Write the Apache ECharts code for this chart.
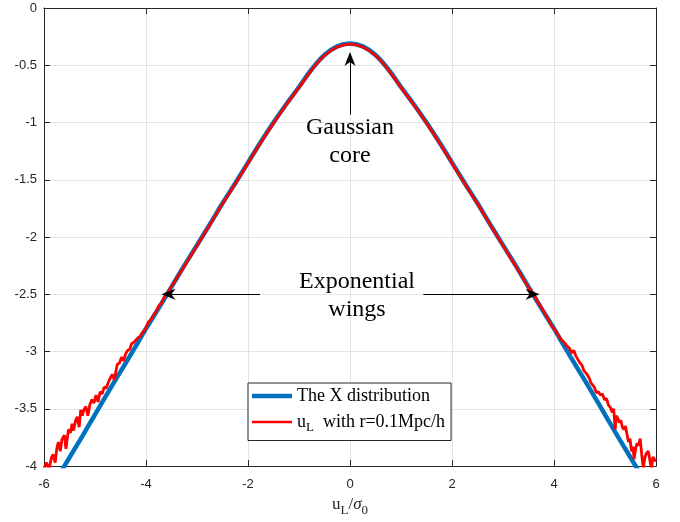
<!DOCTYPE html>
<html><head><meta charset="utf-8">
<script src="https://cdn.jsdelivr.net/npm/echarts@6/dist/echarts.min.js"></script>
<style>html,body{margin:0;padding:0;background:#fff}#c{width:680px;height:522px}</style>
</head><body><div id="c"></div>
<script>
const nameBlue = 'The X distribution';
const nameRed = 'u_L with r=0.1Mpc/h';

const blueX = [-5.75,-5.5,-5.25,-5.0,-4.75,-4.5,-4.25,-4.0,-3.75,-3.5,-3.25,-3.0,-2.75,-2.5,-2.25,-2.0,-1.75,-1.5,-1.25,-1.0,-0.75,-0.5,-0.25,0,
  0.25,0.5,0.75,1.0,1.25,1.5,1.75,2.0,2.25,2.5,2.75,3.0,3.25,3.5,3.75,4.0,4.25,4.5,4.75,5.0,5.25,5.5,5.75];
const blueY = [-4.11,-3.925,-3.74,-3.55,-3.36,-3.175,-2.99,-2.80,-2.62,-2.435,-2.25,-2.07,-1.89,-1.705,-1.53,-1.35,-1.17,-1.0,-0.84,-0.69,-0.535,-0.41,-0.335,-0.31,
  -0.335,-0.41,-0.535,-0.69,-0.84,-1.0,-1.17,-1.35,-1.53,-1.705,-1.89,-2.07,-2.25,-2.435,-2.62,-2.80,-2.99,-3.175,-3.36,-3.55,-3.74,-3.925,-4.11];

const redLeftX = [-6.0,-5.95,-5.9,-5.88,-5.85,-5.82,-5.78,-5.75,-5.72,-5.68,-5.65,-5.6,-5.57,-5.52,-5.48,-5.45,-5.42,-5.38,-5.35,-5.31,-5.28,-5.25,-5.22,-5.18,-5.14,-5.1,-5.06,-5.02,-4.98,-4.94,-4.9,-4.86,-4.82,-4.78,-4.74,-4.7,-4.66,-4.62,-4.59,-4.56,-4.52,-4.48,-4.44,-4.4,-4.36,-4.32,-4.28,-4.24,-4.2,-4.16,-4.12,-4.08,-4.04,-4.0,-3.95,-3.9,-3.85,-3.8,-3.75,-3.7,-3.65,-3.6,-3.55,-3.5];
const redLeftY = [-4.02,-3.97,-4.05,-3.98,-3.92,-3.90,-3.97,-3.85,-3.79,-3.87,-3.77,-3.73,-3.85,-3.68,-3.71,-3.63,-3.69,-3.60,-3.57,-3.66,-3.51,-3.56,-3.51,-3.48,-3.56,-3.46,-3.42,-3.45,-3.38,-3.44,-3.35,-3.37,-3.31,-3.32,-3.27,-3.23,-3.20,-3.25,-3.17,-3.11,-3.10,-3.05,-3.08,-3.02,-2.99,-2.98,-2.93,-2.92,-2.90,-2.88,-2.87,-2.84,-2.82,-2.79,-2.74,-2.72,-2.68,-2.65,-2.60,-2.58,-2.53,-2.50,-2.47,-2.43];

const redCoreX = [-3.5,-3.25,-3.0,-2.75,-2.5,-2.25,-2.0,-1.75,-1.5,-1.25,-1.0,-0.75,-0.5,-0.25,0,0.25,0.5,0.75,1.0,1.25,1.5,1.75,2.0,2.25,2.5,2.75,3.0,3.25,3.5];
const redCoreY = [-2.43,-2.255,-2.075,-1.895,-1.71,-1.535,-1.355,-1.175,-1.005,-0.845,-0.695,-0.54,-0.415,-0.34,-0.315,-0.34,-0.415,-0.54,-0.695,-0.845,-1.005,-1.175,-1.355,-1.535,-1.71,-1.895,-2.075,-2.255,-2.44];

const redRightX = [3.5,3.6,3.7,3.8,3.9,3.96,4.0,4.05,4.1,4.15,4.2,4.25,4.3,4.35,4.39,4.43,4.47,4.51,4.55,4.58,4.61,4.65,4.69,4.72,4.75,4.79,4.83,4.87,4.91,4.95,4.99,5.03,5.07,5.11,5.14,5.17,5.2,5.22,5.25,5.28,5.31,5.34,5.37,5.4,5.43,5.46,5.49,5.52,5.55,5.57,5.6,5.63,5.66,5.69,5.72,5.75,5.78,5.81,5.85,5.88,5.91,5.94,5.97,6.0];
const redRightY = [-2.44,-2.50,-2.58,-2.65,-2.73,-2.78,-2.80,-2.83,-2.87,-2.90,-2.92,-2.95,-2.97,-3.01,-2.99,-3.04,-3.07,-3.10,-3.12,-3.16,-3.18,-3.20,-3.23,-3.27,-3.26,-3.31,-3.36,-3.35,-3.38,-3.37,-3.42,-3.41,-3.47,-3.49,-3.53,-3.50,-3.68,-3.56,-3.58,-3.62,-3.60,-3.66,-3.68,-3.65,-3.72,-3.79,-3.76,-3.87,-3.83,-3.94,-3.85,-3.80,-3.82,-3.76,-3.90,-4.02,-3.93,-3.89,-3.87,-3.95,-4.02,-3.92,-3.94,-3.96];

// annotation positions (data coords)
const coreArrow = [[0, -0.93], [0, -0.445]];
const leftArrow = [[-1.765, -2.5], [-3.56, -2.5]];
const rightArrow = [[1.437, -2.5], [3.58, -2.5]];
const coreText = [0, -1.17];
const wingText = [0.137, -2.515];

const zip = (xs, ys) => xs.map((x, i) => [x, ys[i]]);
const AX = '#262626';
const serif = 'Liberation Serif, Times New Roman, serif';
const sans = 'Liberation Sans, Arial, Helvetica, sans-serif';

const chart = echarts.init(document.getElementById('c'), null, {renderer: 'canvas'});
const axisCommon = {
  axisLine: {show: true, onZero: false, lineStyle: {color: AX, width: 1}},
  axisTick: {show: true, inside: true, length: 6, lineStyle: {color: AX, width: 1}},
};
const redStyle = {color: '#ff0000', width: 2.8};
chart.setOption({
  animation: false,
  backgroundColor: '#fff',
  grid: {left: 44, right: 24, top: 8, bottom: 55, containLabel: false},
  xAxis: [
    Object.assign({type: 'value', min: -6, max: 6, interval: 2, position: 'bottom',
      axisLabel: {color: AX, fontSize: 13, fontFamily: sans, margin: 12},
      splitLine: {show: true, lineStyle: {color: '#e3e3e3', width: 1}},
      name: '{a|u}{s|L}{a|/}{i|σ}{s|0}', nameLocation: 'middle', nameGap: 23,
      nameTextStyle: {rich: {
        a: {fontFamily: serif, fontSize: 17, color: AX},
        i: {fontFamily: serif, fontSize: 17, fontStyle: 'italic', color: AX},
        s: {fontFamily: serif, fontSize: 13, color: AX, padding: [12, 0, 0, 0]}
      }}
    }, axisCommon),
    Object.assign({type: 'value', min: -6, max: 6, interval: 2, position: 'top',
      axisLabel: {show: false}, splitLine: {show: false}}, axisCommon)
  ],
  yAxis: [
    Object.assign({type: 'value', min: -4, max: 0, interval: 0.5, position: 'left',
      axisLabel: {color: AX, fontSize: 13, fontFamily: sans, margin: 7},
      splitLine: {show: true, lineStyle: {color: '#e3e3e3', width: 1}}
    }, axisCommon),
    Object.assign({type: 'value', min: -4, max: 0, interval: 0.5, position: 'right',
      axisLabel: {show: false}, splitLine: {show: false}}, axisCommon)
  ],
  legend: {
    data: [
      {name: nameBlue, icon: 'path://M0,0 H40 V4.5 H0 Z', itemStyle: {color: '#0072bd'}},
      {name: nameRed, icon: 'path://M0,0 H40 V2.5 H0 Z', itemStyle: {color: '#ff0000'}}
    ],
    orient: 'vertical', left: 248, top: 383,
    padding: [2, 6, 6, 4], itemGap: 4, itemWidth: 40, itemHeight: 14,
    backgroundColor: '#fff', borderColor: AX, borderWidth: 1, borderRadius: 0,
    selectedMode: false,
    textStyle: {fontFamily: serif, fontSize: 18, color: '#000', lineHeight: 22,
      rich: {
        m: {fontFamily: serif, fontSize: 18, color: '#000'},
        s: {fontFamily: serif, fontSize: 13, color: '#000', padding: [12, 0, 0, 0]}
      }},
    formatter: n => n === nameRed ? '{m|u}{s|L}{m|  with r=0.1Mpc/h}' : n
  },
  series: [
    {name: nameBlue, type: 'line', data: zip(blueX, blueY), symbol: 'none', smooth: 0.4,
      lineStyle: {color: '#0072bd', width: 4.5}, itemStyle: {color: '#0072bd'}, z: 2, clip: true},
    {name: nameRed, type: 'line', data: zip(redLeftX, redLeftY), symbol: 'none',
      lineStyle: redStyle, itemStyle: {color: '#ff0000'}, z: 3, clip: true},
    {name: nameRed, type: 'line', data: zip(redCoreX, redCoreY), symbol: 'none', smooth: 0.4,
      lineStyle: redStyle, itemStyle: {color: '#ff0000'}, z: 3, clip: true},
    {name: nameRed, type: 'line', data: zip(redRightX, redRightY), symbol: 'none',
      lineStyle: redStyle, itemStyle: {color: '#ff0000'}, z: 3, clip: true},
    {name: 'annot', type: 'line', data: [], z: 5,
      markLine: {
        silent: true, animation: false,
        symbol: ['none', 'path://M5,0 L10,14 L5,10 L0,14 Z'], symbolSize: [11, 14],
        lineStyle: {color: '#000', width: 1, type: 'solid'},
        label: {show: false},
        data: [
          [{coord: coreArrow[0]}, {coord: coreArrow[1]}],
          [{coord: leftArrow[0]}, {coord: leftArrow[1]}],
          [{coord: rightArrow[0]}, {coord: rightArrow[1]}]
        ]
      },
      markPoint: {
        silent: true, animation: false, symbol: 'rect', symbolSize: 1,
        itemStyle: {color: 'rgba(0,0,0,0)'},
        label: {show: true, position: 'inside', fontFamily: serif, fontSize: 24, lineHeight: 28, color: '#000', align: 'center', verticalAlign: 'middle'},
        data: [
          {coord: coreText, value: 'Gaussian\ncore', label: {formatter: 'Gaussian\ncore'}},
          {coord: wingText, value: 'Exponential\nwings', label: {formatter: 'Exponential\nwings'}}
        ]
      }
    }
  ]
});
</script></body></html>
